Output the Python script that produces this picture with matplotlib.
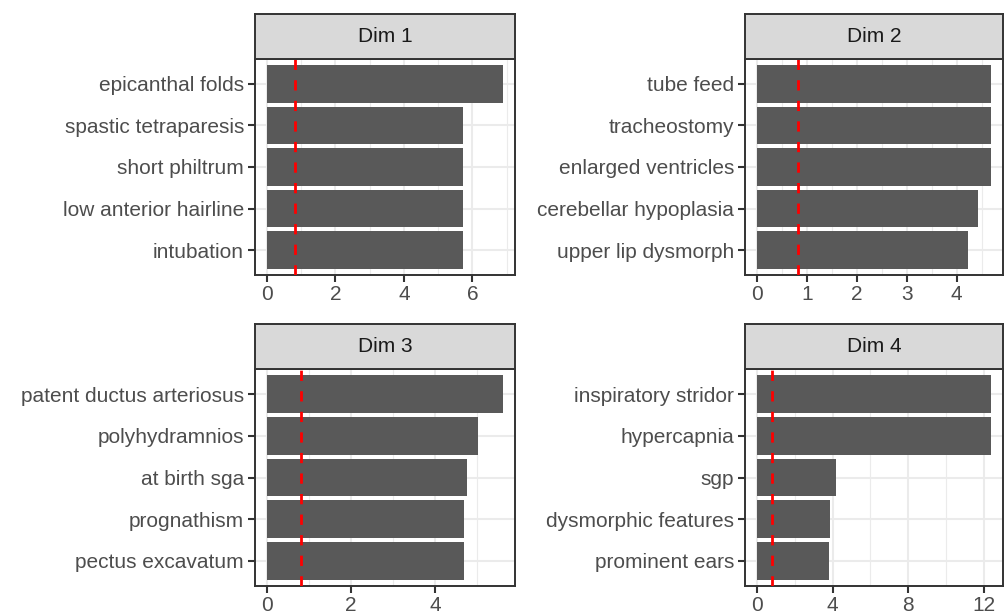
import matplotlib
matplotlib.use("Agg")
import matplotlib.pyplot as plt
import numpy as np

plt.rcParams['font.family'] = ['Liberation Sans', 'DejaVu Sans']

# data, top to bottom within each panel
dim_names = ["Dim 1", "Dim 2", "Dim 3", "Dim 4"]
dim1_labels = ["epicanthal folds", "spastic tetraparesis", "short philtrum",
               "low anterior hairline", "intubation"]
dim1_values = [6.90, 5.73, 5.73, 5.73, 5.73]
dim2_labels = ["tube feed", "tracheostomy", "enlarged ventricles",
               "cerebellar hypoplasia", "upper lip dysmorph"]
dim2_values = [4.69, 4.69, 4.69, 4.42, 4.22]
dim3_labels = ["patent ductus arteriosus", "polyhydramnios", "at birth sga",
               "prognathism", "pectus excavatum"]
dim3_values = [5.62, 5.03, 4.77, 4.70, 4.70]
dim4_labels = ["inspiratory stridor", "hypercapnia", "sgp",
               "dysmorphic features", "prominent ears"]
dim4_values = [12.37, 12.37, 4.18, 3.87, 3.81]
ref_line = 0.82

dim1_ticks = [0, 2, 4, 6]
dim2_ticks = [0, 1, 2, 3, 4]
dim3_ticks = [0, 2, 4]
dim4_ticks = [0, 4, 8, 12]

panels = [
    (dim1_labels, dim1_values, dim1_ticks),
    (dim2_labels, dim2_values, dim2_ticks),
    (dim3_labels, dim3_values, dim3_ticks),
    (dim4_labels, dim4_values, dim4_ticks),
]

W, H = 1005, 615
fig = plt.figure(figsize=(W / 100, H / 100), dpi=100)

# panel boxes in pixels: left, right, top, bottom
boxes = [
    (255, 515, 59, 275),
    (745, 1003, 59, 275),
    (255, 515, 369, 586),
    (745, 1003, 369, 586),
]
strip_h = 45

border = "#333333"
grid = "#EBEBEB"

for (labels, values, ticks), (l, r, t, b), name in zip(panels, boxes, dim_names):
    ax = fig.add_axes([l / W, 1 - b / H, (r - l) / W, (b - t) / H])
    n = len(values)
    ypos = np.arange(n, 0, -1)
    vmax = max(values)
    ax.set_xlim(-0.05 * vmax, 1.05 * vmax)
    ax.set_ylim(0.4, n + 0.6)

    # grid
    minor = [(ticks[i] + ticks[i + 1]) / 2 for i in range(len(ticks) - 1)]
    minor.append(ticks[-1] + (ticks[1] - ticks[0]) / 2)
    for m in minor:
        ax.axvline(m, color=grid, lw=0.8, zorder=0)
    for tk in ticks:
        ax.axvline(tk, color=grid, lw=1.5, zorder=0)
    for yv in ypos:
        ax.axhline(yv, color=grid, lw=1.5, zorder=0)

    ax.barh(ypos, values, height=0.9, color="#595959", zorder=2)
    ax.axvline(ref_line, color="red", lw=2.0, linestyle=(0, (3.7, 3.7)), zorder=3)

    ax.set_xticks(ticks)
    ax.set_xticklabels([str(tk) for tk in ticks])
    ax.set_yticks(ypos)
    ax.set_yticklabels(labels)
    ax.tick_params(axis="both", length=5, width=1.5, color=border,
                   labelcolor="#4D4D4D", labelsize=15)
    ax.tick_params(axis="x", pad=2)
    ax.tick_params(axis="y", pad=3)
    for s in ax.spines.values():
        s.set_color(border)
        s.set_linewidth(1.4)

    # strip
    sax = fig.add_axes([l / W, 1 - t / H, (r - l) / W, strip_h / H])
    sax.set_facecolor("#D9D9D9")
    sax.set_xticks([])
    sax.set_yticks([])
    for s in sax.spines.values():
        s.set_color(border)
        s.set_linewidth(1.4)
    sax.text(0.5, 0.5, name, ha="center", va="center", fontsize=15,
             color="#1A1A1A", transform=sax.transAxes)

fig.savefig("out.png", dpi=100)
